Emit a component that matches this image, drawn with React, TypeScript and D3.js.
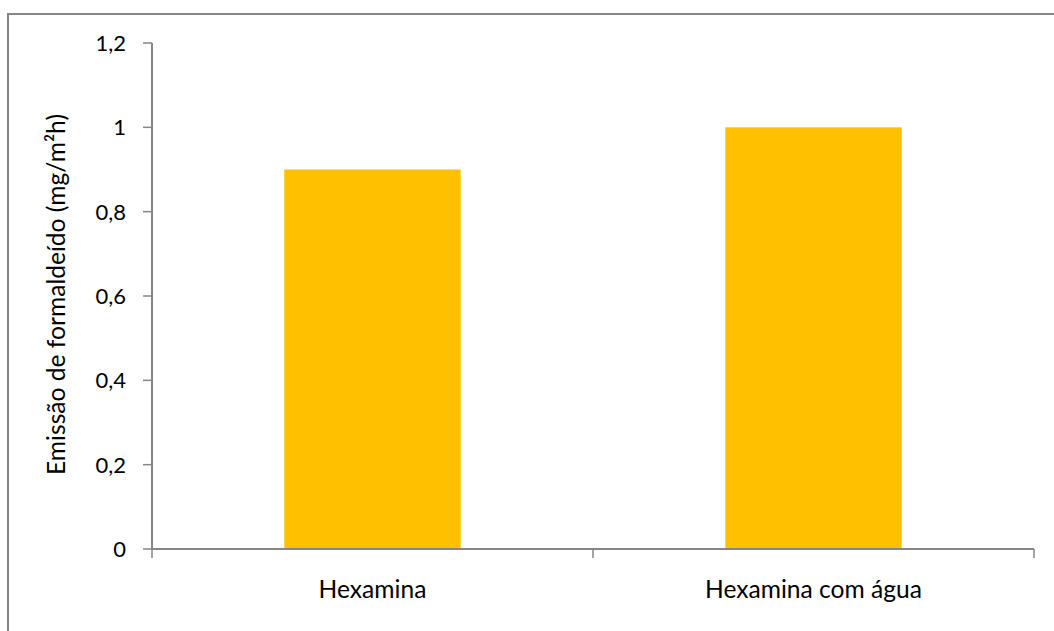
import React from "react";
import * as d3 from "d3";

const categories: string[] = ["Hexamina", "Hexamina com água"];
const values: number[] = [0.9, 1.0];
const yTicks: number[] = [0, 0.2, 0.4, 0.6, 0.8, 1.0, 1.2];
const yTitle = "Emissão de formaldeído (mg/m²h)";

const W = 1054;
const H = 631;
const plot = { left: 152, right: 1034, top: 43, bottom: 549 };
const AXIS = "#868686";
const BAR = "#FFC000";
const FONT = "Lato, sans-serif";
const FS_TICK = 22;
const FS_LABEL = 24.6;

export default function App() {
  const x = d3.scaleBand<string>().domain(categories).range([plot.left, plot.right]).padding(0);
  const y = d3.scaleLinear().domain([0, 1.2]).range([plot.bottom, plot.top]);
  const barW = x.bandwidth() * 0.4;
  const fmt = (v: number) => (v === 0 ? "0" : d3.format("~g")(+v.toFixed(1)).replace(".", ","));
  const boundaries = [plot.left, ...categories.map((c) => (x(c) as number) + x.bandwidth())];

  return (
    <svg width={W} height={H} style={{ position: "absolute", left: 0, top: 0, background: "#fff" }}>
      <rect x={8} y={14} width={1200} height={800} fill="#fff" stroke={AXIS} strokeWidth={2} />
      {categories.map((c, i) => {
        const cx = (x(c) as number) + x.bandwidth() / 2;
        return (
          <rect key={c} x={cx - barW / 2} y={y(values[i])} width={barW} height={y(0) - y(values[i])} fill={BAR} />
        );
      })}
      {/* y axis */}
      <line x1={plot.left} x2={plot.left} y1={plot.top} y2={plot.bottom} stroke={AXIS} strokeWidth={2} />
      {yTicks.map((t) => (
        <g key={t}>
          <line x1={plot.left - 9} x2={plot.left} y1={y(t)} y2={y(t)} stroke={AXIS} strokeWidth={1.5} />
          <text x={126} y={y(t)} dy="0.36em" textAnchor="end" fontFamily={FONT} fontSize={FS_TICK} fill="#000">
            {fmt(t)}
          </text>
        </g>
      ))}
      {/* x axis */}
      <line x1={plot.left} x2={plot.right} y1={plot.bottom} y2={plot.bottom} stroke={AXIS} strokeWidth={2} />
      {boundaries.map((b, i) => (
        <line key={i} x1={b} x2={b} y1={plot.bottom} y2={plot.bottom + 9} stroke={AXIS} strokeWidth={1.5} />
      ))}
      {categories.map((c) => (
        <text
          key={c}
          x={(x(c) as number) + x.bandwidth() / 2}
          y={598}
          textAnchor="middle"
          fontFamily={FONT}
          fontSize={FS_LABEL}
          fill="#000"
        >
          {c}
        </text>
      ))}
      <text
        transform={`translate(65, 294.5) rotate(-90)`}
        textAnchor="middle"
        fontFamily={FONT}
        fontSize={FS_LABEL}
        fill="#000"
      >
        {yTitle}
      </text>
    </svg>
  );
}
